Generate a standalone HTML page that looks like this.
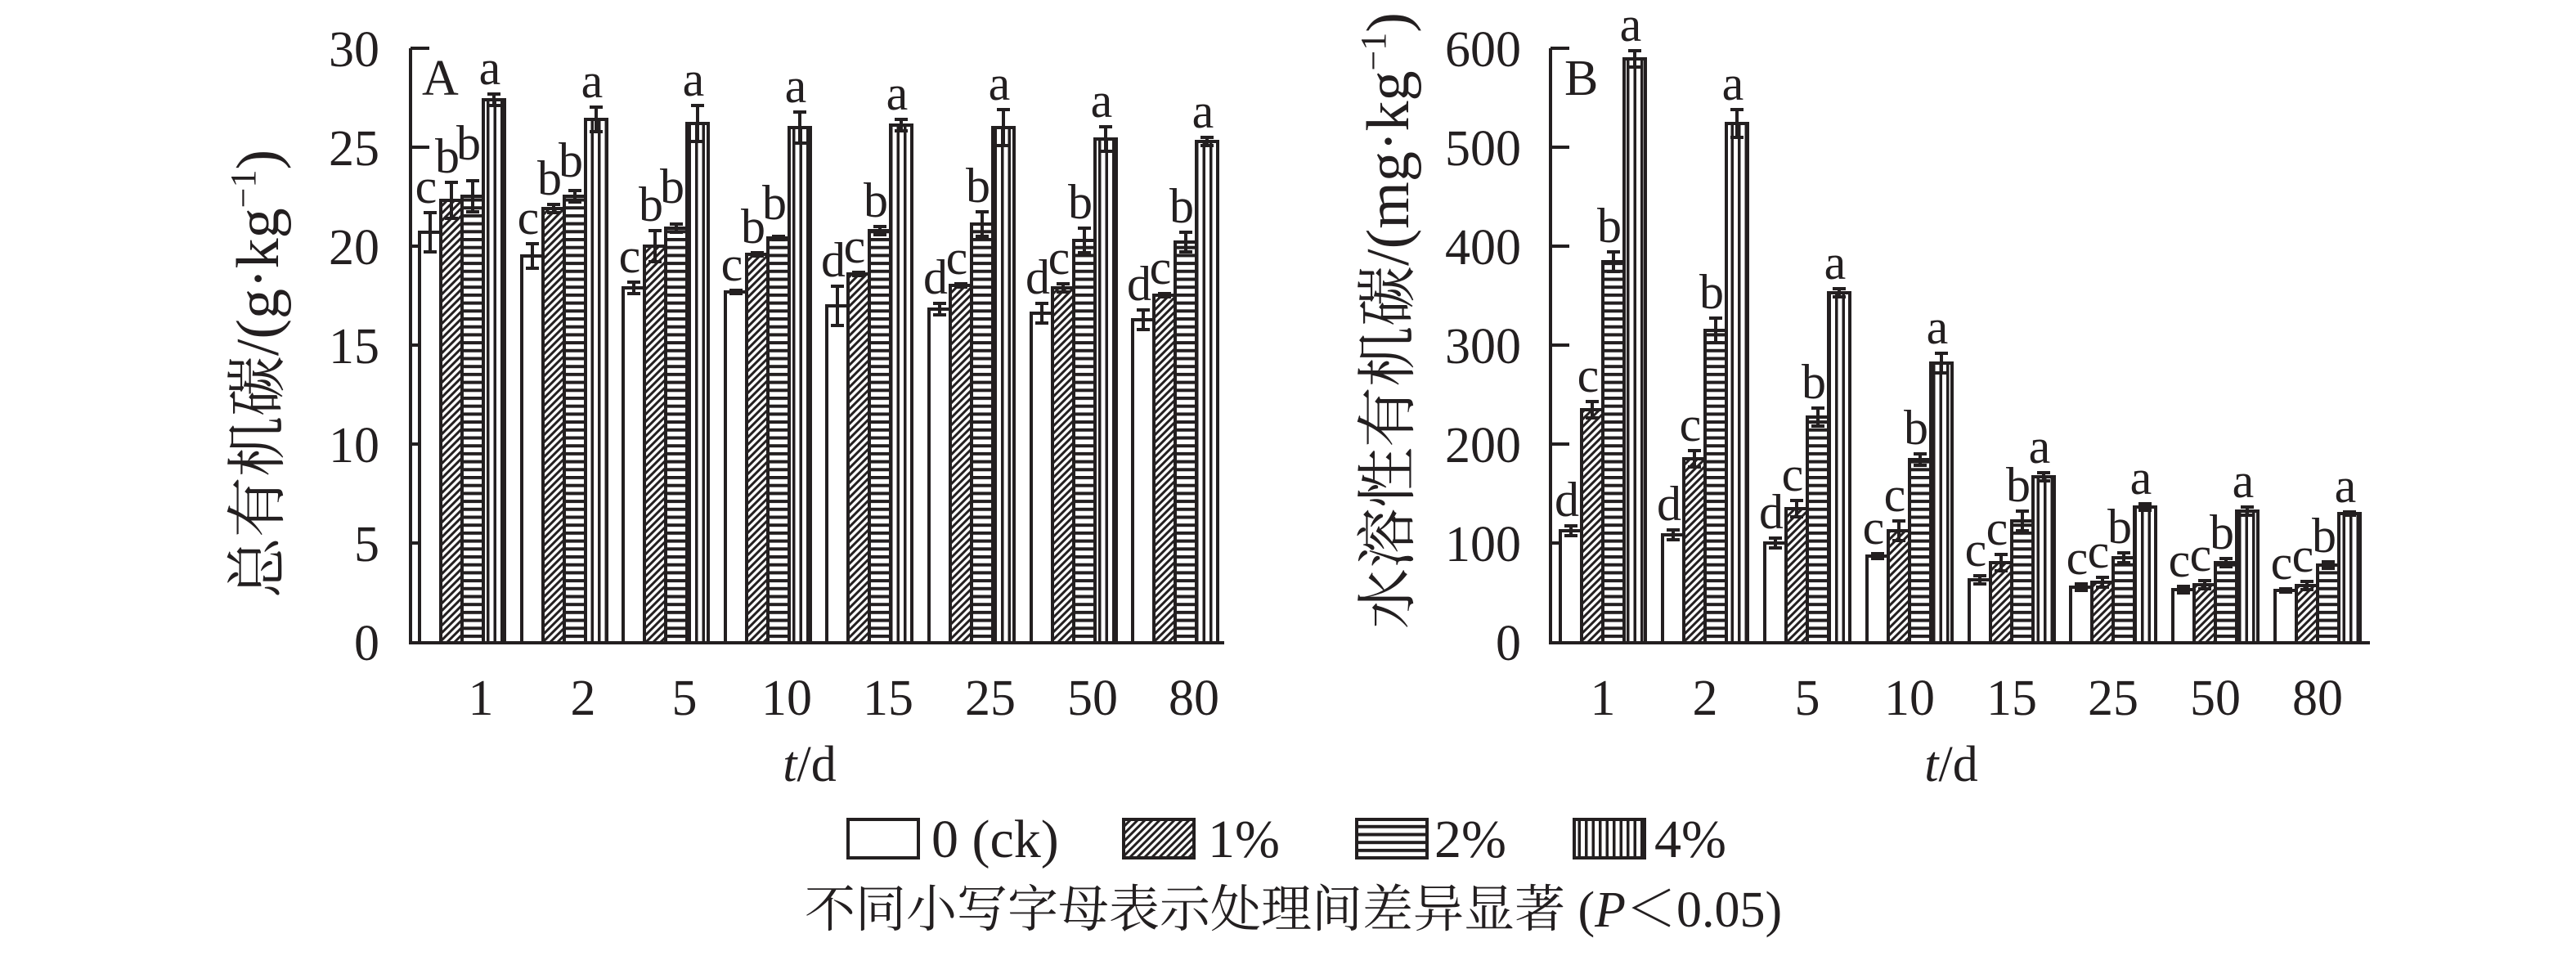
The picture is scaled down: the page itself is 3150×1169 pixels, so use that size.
<!DOCTYPE html>
<html><head><meta charset="utf-8"><style>
html,body{margin:0;padding:0;background:#fff;}
svg text{font-family:"Liberation Serif","Noto Serif CJK SC","Noto Sans CJK SC",serif;fill:#231f20;}
.b0{fill:#fff;stroke:#231f20;stroke-width:4}
.b1{fill:url(#p1);stroke:#231f20;stroke-width:4}
.b2{fill:url(#p2);stroke:#231f20;stroke-width:4}
.b3{fill:url(#p3);stroke:#231f20;stroke-width:4}
.e{stroke:#231f20;stroke-width:4;fill:none}
.l{font-size:60px;text-anchor:middle}
.t{font-size:62px}
.y{font-size:74px}
.g{font-size:66px}
</style></head><body>
<svg width="3150" height="1164" viewBox="0 0 3150 1164" xmlns="http://www.w3.org/2000/svg" font-family="Liberation Serif, Noto Serif CJK SC, serif">
<defs>
<pattern id="p1" patternUnits="userSpaceOnUse" width="9" height="9"><rect width="9" height="9" fill="#fff"/><path d="M-2,11 L11,-2 M-2,2 L2,-2 M7,11 L11,7" stroke="#231f20" stroke-width="3"/></pattern>
<pattern id="p2" patternUnits="userSpaceOnUse" width="10" height="9.7"><rect width="10" height="9.7" fill="#fff"/><rect y="0" width="10" height="4" fill="#231f20"/></pattern>
<pattern id="p3" patternUnits="userSpaceOnUse" width="8.5" height="10"><rect width="8.5" height="10" fill="#fff"/><rect x="0" width="3.5" height="10" fill="#231f20"/></pattern>
</defs>

<!-- Panel A axes -->
<path class="e" d="M502,59 V788 M500,786 H1497 M502,59 h23 M502,180 h23 M502,301 h23 M502,422 h23 M502,543 h23 M502,664 h23"/>
<g class="t" text-anchor="end">
<text x="464" y="81">30</text><text x="464" y="202">25</text><text x="464" y="323">20</text><text x="464" y="444">15</text><text x="464" y="565">10</text><text x="464" y="686">5</text><text x="464" y="807">0</text>
</g>
<text class="t" x="516" y="116">A</text>
<g class="t" text-anchor="middle">
<text x="588" y="874">1</text><text x="713" y="874">2</text><text x="837" y="874">5</text><text x="962" y="874">10</text><text x="1086" y="874">15</text><text x="1211" y="874">25</text><text x="1336" y="874">50</text><text x="1460" y="874">80</text>
</g>
<text class="t" x="990" y="955" text-anchor="middle"><tspan font-style="italic">t</tspan>/d</text>
<text class="y" transform="translate(340,457) rotate(-90)" text-anchor="middle">总有机碳/(g·kg<tspan font-size="44" dy="-28">−1</tspan><tspan dy="28">)</tspan></text>

<!-- A bars -->
<rect class="b0" x="513" y="284" width="26" height="502"/><rect class="b1" x="539" y="245" width="26" height="541"/><rect class="b2" x="565" y="240" width="26" height="546"/><rect class="b3" x="591" y="122" width="26" height="664"/>
<rect class="b0" x="638" y="313" width="26" height="473"/><rect class="b1" x="664" y="255" width="26" height="531"/><rect class="b2" x="690" y="240" width="26" height="546"/><rect class="b3" x="716" y="146" width="26" height="640"/>
<rect class="b0" x="762" y="352" width="26" height="434"/><rect class="b1" x="788" y="301" width="26" height="485"/><rect class="b2" x="814" y="279" width="26" height="507"/><rect class="b3" x="840" y="151" width="26" height="635"/>
<rect class="b0" x="887" y="357" width="26" height="429"/><rect class="b1" x="913" y="311" width="26" height="475"/><rect class="b2" x="939" y="291" width="26" height="495"/><rect class="b3" x="965" y="156" width="26" height="630"/>
<rect class="b0" x="1011" y="374" width="26" height="412"/><rect class="b1" x="1037" y="335" width="26" height="451"/><rect class="b2" x="1063" y="282" width="26" height="504"/><rect class="b3" x="1089" y="153" width="26" height="633"/>
<rect class="b0" x="1136" y="378" width="26" height="408"/><rect class="b1" x="1162" y="349" width="26" height="437"/><rect class="b2" x="1188" y="274" width="26" height="512"/><rect class="b3" x="1214" y="156" width="26" height="630"/>
<rect class="b0" x="1261" y="383" width="26" height="403"/><rect class="b1" x="1287" y="352" width="26" height="434"/><rect class="b2" x="1313" y="294" width="26" height="492"/><rect class="b3" x="1339" y="170" width="26" height="616"/>
<rect class="b0" x="1385" y="391" width="26" height="395"/><rect class="b1" x="1411" y="361" width="26" height="425"/><rect class="b2" x="1437" y="296" width="26" height="490"/><rect class="b3" x="1463" y="173" width="26" height="613"/>
<path class="e" d="
M526,260V308M518,260h16M518,308h16 M552,223V267M544,223h16M544,267h16 M578,221V259M570,221h16M570,259h16 M604,115V129M596,115h16M596,129h16
M651,298V328M643,298h16M643,328h16 M677,250V260M669,250h16M669,260h16 M703,233V247M695,233h16M695,247h16 M729,131V161M721,131h16M721,161h16
M775,345V359M767,345h16M767,359h16 M801,282V320M793,282h16M793,320h16 M827,274V284M819,274h16M819,284h16 M853,129V173M845,129h16M845,173h16
M900,355V359M892,355h16M892,359h16 M926,309V313M918,309h16M918,313h16 M952,289V293M944,289h16M944,293h16 M978,137V175M970,137h16M970,175h16
M1024,350V398M1016,350h16M1016,398h16 M1050,333V337M1042,333h16M1042,337h16 M1076,277V287M1068,277h16M1068,287h16 M1102,146V160M1094,146h16M1094,160h16
M1149,371V385M1141,371h16M1141,385h16 M1175,347V351M1167,347h16M1167,351h16 M1201,259V289M1193,259h16M1193,289h16 M1227,134V178M1219,134h16M1219,178h16
M1274,371V395M1266,371h16M1266,395h16 M1300,347V357M1292,347h16M1292,357h16 M1326,279V309M1318,279h16M1318,309h16 M1352,155V185M1344,155h16M1344,185h16
M1398,379V403M1390,379h16M1390,403h16 M1424,359V363M1416,359h16M1416,363h16 M1450,284V308M1442,284h16M1442,308h16 M1476,168V178M1468,168h16M1468,178h16"/>
<g class="l">
<text x="521" y="248">c</text><text x="547" y="211">b</text><text x="573" y="195">b</text><text x="599" y="103">a</text>
<text x="646" y="286">c</text><text x="672" y="238">b</text><text x="698" y="216">b</text><text x="724" y="119">a</text>
<text x="770" y="333">c</text><text x="796" y="270">b</text><text x="822" y="248">b</text><text x="848" y="117">a</text>
<text x="895" y="343">c</text><text x="921" y="297">b</text><text x="947" y="268">b</text><text x="973" y="125">a</text>
<text x="1019" y="338">d</text><text x="1045" y="321">c</text><text x="1071" y="265">b</text><text x="1097" y="134">a</text>
<text x="1144" y="359">d</text><text x="1170" y="335">c</text><text x="1196" y="247">b</text><text x="1222" y="122">a</text>
<text x="1269" y="359">d</text><text x="1295" y="335">c</text><text x="1321" y="267">b</text><text x="1347" y="143">a</text>
<text x="1393" y="367">d</text><text x="1419" y="347">c</text><text x="1445" y="272">b</text><text x="1471" y="156">a</text>
</g>

<!-- Panel B axes -->
<path class="e" d="M1896,59 V788 M1894,786 H2898 M1896,59 h23 M1896,180 h23 M1896,301 h23 M1896,422 h23 M1896,543 h23 M1896,664 h23"/>
<g class="t" text-anchor="end">
<text x="1860" y="81">600</text><text x="1860" y="202">500</text><text x="1860" y="323">400</text><text x="1860" y="444">300</text><text x="1860" y="565">200</text><text x="1860" y="686">100</text><text x="1860" y="807">0</text>
</g>
<text class="t" x="1913" y="116">B</text>
<g class="t" text-anchor="middle">
<text x="1960" y="874">1</text><text x="2085" y="874">2</text><text x="2210" y="874">5</text><text x="2335" y="874">10</text><text x="2460" y="874">15</text><text x="2584" y="874">25</text><text x="2709" y="874">50</text><text x="2834" y="874">80</text>
</g>
<text class="t" x="2386" y="955" text-anchor="middle"><tspan font-style="italic">t</tspan>/d</text>
<text class="y" transform="translate(1722,392) rotate(-90)" text-anchor="middle">水溶性有机碳/(mg·kg<tspan font-size="44" dy="-28">−1</tspan><tspan dy="28">)</tspan></text>

<!-- B bars -->
<rect class="b0" x="1908" y="649" width="26" height="137"/><rect class="b1" x="1934" y="501" width="26" height="285"/><rect class="b2" x="1960" y="320" width="26" height="466"/><rect class="b3" x="1986" y="72" width="26" height="714"/>
<rect class="b0" x="2033" y="654" width="26" height="132"/><rect class="b1" x="2059" y="561" width="26" height="225"/><rect class="b2" x="2085" y="404" width="26" height="382"/><rect class="b3" x="2111" y="151" width="26" height="635"/>
<rect class="b0" x="2158" y="664" width="26" height="122"/><rect class="b1" x="2184" y="622" width="26" height="164"/><rect class="b2" x="2210" y="510" width="26" height="276"/><rect class="b3" x="2236" y="358" width="26" height="428"/>
<rect class="b0" x="2283" y="680" width="26" height="106"/><rect class="b1" x="2309" y="649" width="26" height="137"/><rect class="b2" x="2335" y="562" width="26" height="224"/><rect class="b3" x="2361" y="444" width="26" height="342"/>
<rect class="b0" x="2408" y="709" width="26" height="77"/><rect class="b1" x="2434" y="688" width="26" height="98"/><rect class="b2" x="2460" y="637" width="26" height="149"/><rect class="b3" x="2486" y="583" width="26" height="203"/>
<rect class="b0" x="2532" y="718" width="26" height="68"/><rect class="b1" x="2558" y="712" width="26" height="74"/><rect class="b2" x="2584" y="682" width="26" height="104"/><rect class="b3" x="2610" y="620" width="26" height="166"/>
<rect class="b0" x="2657" y="721" width="26" height="65"/><rect class="b1" x="2683" y="715" width="26" height="71"/><rect class="b2" x="2709" y="688" width="26" height="98"/><rect class="b3" x="2735" y="625" width="26" height="161"/>
<rect class="b0" x="2782" y="722" width="26" height="64"/><rect class="b1" x="2808" y="716" width="26" height="70"/><rect class="b2" x="2834" y="691" width="26" height="95"/><rect class="b3" x="2860" y="628" width="26" height="158"/>
<path class="e" d="
M1921,643V655M1913,643h16M1913,655h16 M1947,491V511M1939,491h16M1939,511h16 M1973,308V332M1965,308h16M1965,332h16 M1999,62V82M1991,62h16M1991,82h16
M2046,648V660M2038,648h16M2038,660h16 M2072,551V571M2064,551h16M2064,571h16 M2098,389V419M2090,389h16M2090,419h16 M2124,134V168M2116,134h16M2116,168h16
M2171,658V670M2163,658h16M2163,670h16 M2197,612V632M2189,612h16M2189,632h16 M2223,499V521M2215,499h16M2215,521h16 M2249,353V363M2241,353h16M2241,363h16
M2296,677V683M2288,677h16M2288,683h16 M2322,637V661M2314,637h16M2314,661h16 M2348,555V569M2340,555h16M2340,569h16 M2374,432V456M2366,432h16M2366,456h16
M2421,704V714M2413,704h16M2413,714h16 M2447,678V698M2439,678h16M2439,698h16 M2473,625V649M2465,625h16M2465,649h16 M2499,578V588M2491,578h16M2491,588h16
M2545,714V722M2537,714h16M2537,722h16 M2571,706V718M2563,706h16M2563,718h16 M2597,676V688M2589,676h16M2589,688h16 M2623,616V624M2615,616h16M2615,624h16
M2670,717V725M2662,717h16M2662,725h16 M2696,710V720M2688,710h16M2688,720h16 M2722,683V693M2714,683h16M2714,693h16 M2748,620V630M2740,620h16M2740,630h16
M2795,720V724M2787,720h16M2787,724h16 M2821,711V721M2813,711h16M2813,721h16 M2847,687V695M2839,687h16M2839,695h16 M2873,626V630M2865,626h16M2865,630h16"/>
<g class="l">
<text x="1916" y="631">d</text><text x="1942" y="479">c</text><text x="1968" y="296">b</text><text x="1994" y="50">a</text>
<text x="2041" y="636">d</text><text x="2067" y="539">c</text><text x="2093" y="377">b</text><text x="2119" y="122">a</text>
<text x="2166" y="646">d</text><text x="2192" y="600">c</text><text x="2218" y="487">b</text><text x="2244" y="341">a</text>
<text x="2291" y="665">c</text><text x="2317" y="625">c</text><text x="2343" y="543">b</text><text x="2369" y="420">a</text>
<text x="2416" y="692">c</text><text x="2442" y="666">c</text><text x="2468" y="613">b</text><text x="2494" y="566">a</text>
<text x="2540" y="702">c</text><text x="2566" y="694">c</text><text x="2592" y="664">b</text><text x="2618" y="604">a</text>
<text x="2665" y="705">c</text><text x="2691" y="698">c</text><text x="2717" y="671">b</text><text x="2743" y="608">a</text>
<text x="2790" y="708">c</text><text x="2816" y="699">c</text><text x="2842" y="675">b</text><text x="2868" y="614">a</text>
</g>

<!-- Legend -->
<rect class="b0" x="1037" y="1002" width="86" height="47"/>
<text class="g" x="1139" y="1048">0 (ck)</text>
<rect class="b1" x="1374" y="1002" width="86" height="47"/>
<text class="g" x="1477" y="1048">1%</text>
<rect class="b2" x="1659" y="1002" width="86" height="47"/>
<text class="g" x="1754" y="1048">2%</text>
<rect class="b3" x="1925" y="1002" width="86" height="47"/>
<text class="g" x="2023" y="1048">4%</text>

<text x="984" y="1133" style="font-size:62px">不同小写字母表示处理间差异显著 (<tspan font-style="italic">P</tspan>＜0.05)</text>
</svg>
</body></html>
